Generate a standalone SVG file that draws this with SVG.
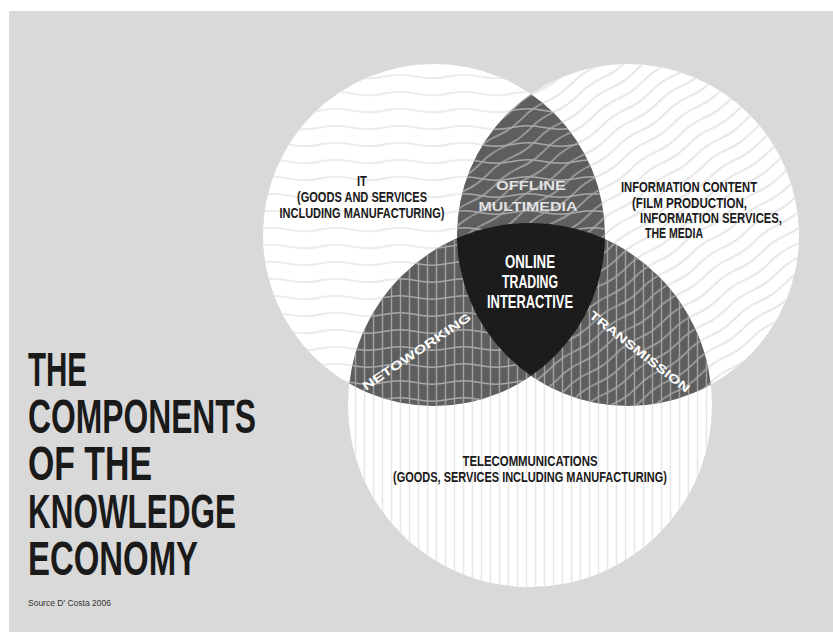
<svg xmlns="http://www.w3.org/2000/svg" width="833" height="632" viewBox="0 0 833 632">
<style>
.lbl{font-family:"Liberation Sans","DejaVu Sans",sans-serif;font-weight:bold;fill:#1a1a1a}
.title{font-family:"Liberation Sans","DejaVu Sans",sans-serif;font-weight:bold;font-size:48px;fill:#1a1a1a}
.wlbl{font-family:"Liberation Sans","DejaVu Sans",sans-serif;font-weight:bold;fill:#ffffff}
.src{font-family:"Liberation Sans","DejaVu Sans",sans-serif;font-size:8.5px;fill:#333}
</style>
<defs>
<circle id="cIT" cx="434" cy="235" r="171"/>
<circle id="cINFO" cx="628" cy="235" r="171"/>
<circle id="cTEL" cx="530" cy="405" r="182"/>
<clipPath id="clipIT"><use href="#cIT"/></clipPath>
<clipPath id="clipINFO"><use href="#cINFO"/></clipPath>
<clipPath id="clipTEL"><use href="#cTEL"/></clipPath>
<pattern id="hwL" patternUnits="userSpaceOnUse" width="64" height="17">
<path d="M0 8.5 Q16 5 32 8.5 T64 8.5" fill="none" stroke="#ececec" stroke-width="2.2"/>
</pattern>
<pattern id="dwL" patternUnits="userSpaceOnUse" width="60" height="13" patternTransform="rotate(-35)">
<path d="M0 6.5 Q15 3.5 30 6.5 T60 6.5" fill="none" stroke="#e6e6e6" stroke-width="2"/>
</pattern>
<pattern id="vL" patternUnits="userSpaceOnUse" width="9" height="10">
<line x1="4.5" y1="0" x2="4.5" y2="10" stroke="#e8e8e8" stroke-width="1.6"/>
</pattern>
<pattern id="hwD" patternUnits="userSpaceOnUse" width="64" height="17">
<path d="M0 8.5 Q16 5 32 8.5 T64 8.5" fill="none" stroke="#a8a8a8" stroke-width="1.6"/>
</pattern>
<pattern id="dwD" patternUnits="userSpaceOnUse" width="60" height="13" patternTransform="rotate(-35)">
<path d="M0 6.5 Q15 3.5 30 6.5 T60 6.5" fill="none" stroke="#a8a8a8" stroke-width="1.6"/>
</pattern>
<pattern id="vD" patternUnits="userSpaceOnUse" width="9" height="10">
<line x1="4.5" y1="0" x2="4.5" y2="10" stroke="#a2a2a2" stroke-width="1.4"/>
</pattern>
</defs>
<rect width="833" height="632" fill="#ffffff"/>
<rect x="9" y="11" width="824" height="621" fill="#d9d9d9"/>

<g id="circle-it">
<use href="#cIT" fill="#ffffff"/>
<use href="#cIT" fill="url(#hwL)"/>
</g>
<g id="circle-info">
<use href="#cINFO" fill="#ffffff"/>
<use href="#cINFO" fill="url(#dwL)"/>
</g>
<g id="circle-tel">
<use href="#cTEL" fill="#ffffff"/>
<use href="#cTEL" fill="url(#vL)"/>
</g>

<g id="offline-multimedia" clip-path="url(#clipINFO)">
<use href="#cIT" fill="#5e5e5e"/>
<use href="#cIT" fill="url(#hwD)"/>
<use href="#cIT" fill="url(#dwD)"/>
</g>
<g id="networking" clip-path="url(#clipTEL)">
<use href="#cIT" fill="#5e5e5e"/>
<use href="#cIT" fill="url(#hwD)"/>
<use href="#cIT" fill="url(#vD)"/>
</g>
<g id="transmission" clip-path="url(#clipTEL)">
<use href="#cINFO" fill="#5e5e5e"/>
<use href="#cINFO" fill="url(#dwD)"/>
<use href="#cINFO" fill="url(#vD)"/>
</g>
<g id="online-trading" clip-path="url(#clipTEL)">
<g clip-path="url(#clipINFO)">
<use href="#cIT" fill="#1c1c1c"/>
</g>
</g>

<g id="labels">
<text class="lbl" font-size="15" x="362" y="186" text-anchor="middle" textLength="10" lengthAdjust="spacingAndGlyphs">IT</text>
<text class="lbl" font-size="15" x="362" y="202" text-anchor="middle" textLength="130" lengthAdjust="spacingAndGlyphs">(GOODS AND SERVICES</text>
<text class="lbl" font-size="15" x="362" y="218" text-anchor="middle" textLength="165" lengthAdjust="spacingAndGlyphs">INCLUDING MANUFACTURING)</text>

<text class="lbl" font-size="15" x="621" y="192" textLength="136" lengthAdjust="spacingAndGlyphs">INFORMATION CONTENT</text>
<text class="lbl" font-size="15" x="632" y="208" textLength="115" lengthAdjust="spacingAndGlyphs">(FILM PRODUCTION,</text>
<text class="lbl" font-size="15" x="640" y="223" textLength="142" lengthAdjust="spacingAndGlyphs">INFORMATION SERVICES,</text>
<text class="lbl" font-size="15" x="645" y="238" textLength="58" lengthAdjust="spacingAndGlyphs">THE MEDIA</text>

<text class="lbl" font-size="15" x="530" y="466" text-anchor="middle" textLength="135" lengthAdjust="spacingAndGlyphs">TELECOMMUNICATIONS</text>
<text class="lbl" font-size="15" x="530" y="482" text-anchor="middle" textLength="274" lengthAdjust="spacingAndGlyphs">(GOODS, SERVICES INCLUDING MANUFACTURING)</text>

<text class="wlbl" font-size="18" x="530" y="268" text-anchor="middle" textLength="50" lengthAdjust="spacingAndGlyphs">ONLINE</text>
<text class="wlbl" font-size="18" x="530" y="288" text-anchor="middle" textLength="56" lengthAdjust="spacingAndGlyphs">TRADING</text>
<text class="wlbl" font-size="18" x="530" y="308" text-anchor="middle" textLength="86" lengthAdjust="spacingAndGlyphs">INTERACTIVE</text>

<text class="wlbl" font-size="12" x="531" y="190" text-anchor="middle" textLength="70" lengthAdjust="spacingAndGlyphs" style="fill:#e2e2e2">OFFLINE</text>
<text class="wlbl" font-size="12" x="528" y="211" text-anchor="middle" textLength="99" lengthAdjust="spacingAndGlyphs" style="fill:#e2e2e2">MULTIMEDIA</text>

<text class="wlbl" font-size="12" transform="translate(419 355) rotate(-34)" text-anchor="middle" textLength="128" lengthAdjust="spacingAndGlyphs">NETOWORKING</text>
<text class="wlbl" font-size="12" transform="translate(637 355) rotate(38)" text-anchor="middle" textLength="124" lengthAdjust="spacingAndGlyphs">TRANSMISSION</text>
</g>

<g id="title">
<text class="title" x="28" y="386" textLength="59" lengthAdjust="spacingAndGlyphs">THE</text>
<text class="title" x="28" y="433" textLength="228" lengthAdjust="spacingAndGlyphs">COMPONENTS</text>
<text class="title" x="28" y="480" textLength="124" lengthAdjust="spacingAndGlyphs">OF THE</text>
<text class="title" x="28" y="528" textLength="208" lengthAdjust="spacingAndGlyphs">KNOWLEDGE</text>
<text class="title" x="28" y="575" textLength="170" lengthAdjust="spacingAndGlyphs">ECONOMY</text>
<text class="src" x="28" y="606">Source D' Costa 2006</text>
</g>
</svg>
